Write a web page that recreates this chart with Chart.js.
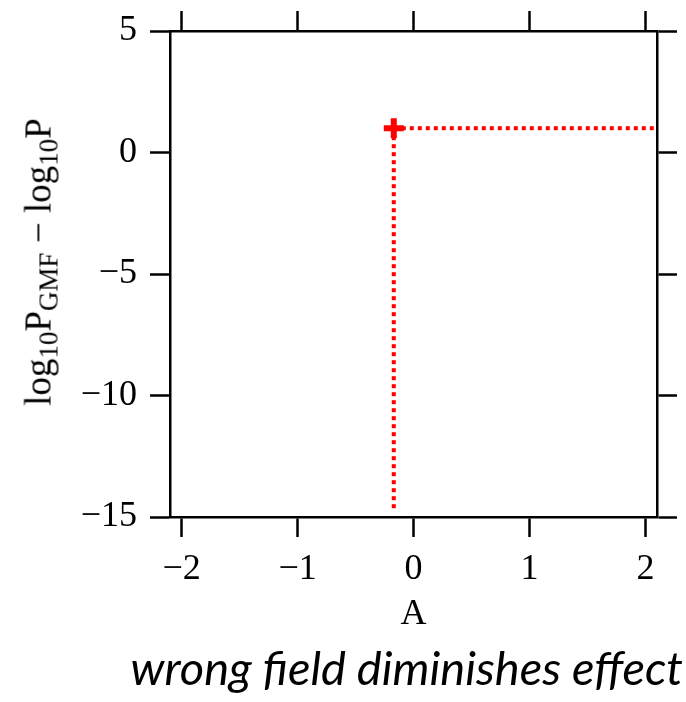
<!DOCTYPE html>
<html lang="en">
<head>
<meta charset="UTF-8">
<title>log10 P_GMF - log10 P vs A</title>
<script src="https://cdn.jsdelivr.net/npm/chart.js"></script>
<style>
  body { margin: 0; background: #fff; }
  #wrap { position: relative; width: 686px; height: 702px; }
  #chart { position: absolute; left: 0; top: 0; }
  #ytitle {
    position: absolute; left: 38px; top: 262px;
    transform: translate(-50%, -50%) rotate(-90deg);
    font-family: "Liberation Serif", serif; font-size: 37px; white-space: nowrap; color: #000;
  }
  #ytitle sub { font-size: 27px; vertical-align: -7px; line-height: 0; }
  #caption {
    position: absolute; right: 3px; top: 639px;
    font-family: Lato, sans-serif; font-style: italic; font-size: 47px; color: #000; white-space: nowrap;
  }
</style>
</head>
<body>
<div id="wrap">
  <canvas id="chart" width="686" height="640"></canvas>
  <div id="ytitle">log<sub>10</sub>P<sub>GMF</sub> &minus; log<sub>10</sub>P</div>
  <div id="caption">wrong field diminishes effect</div>
</div>
<script>
// values
const xTicks = [-2, -1, 0, 1, 2]
const yTicks = [5, 0, -5, -10, -15]
const xRange = [-2.1, 2.1]
const yRange = [-15, 5]

const pointA = [-0.17]
const pointY = [1]
// dotted guide lines from the point to the right edge and down to the bottom
const guideH = { x: [-0.17, 2.1], y: [1, 1] }
const guideV = { x: [-0.17, -0.17], y: [1, -14.7] }

const RED = '#ff0000'
const fmt = (v) => (v < 0 ? '\u2212' + Math.abs(v) : String(v))
const serif = { family: '"Liberation Serif", serif', size: 36 }

const pair = (g) => g.x.map((x, i) => ({ x, y: g.y[i] }))

function axisBase(pos, ticksArr, showLabels) {
  return {
    type: 'linear',
    position: pos,
    afterBuildTicks: (s) => { s.ticks = ticksArr.map((v) => ({ value: v })) },
    border: { display: true, color: '#000', width: 2.5 },
    grid: { drawOnChartArea: false, drawTicks: true, tickLength: 20, tickWidth: 2.5, tickColor: '#000' },
    ticks: { display: showLabels, color: '#000', font: serif, callback: (v) => fmt(v) },
  }
}

const ctx = document.getElementById('chart').getContext('2d')
new Chart(ctx, {
  type: 'scatter',
  data: {
    datasets: [
      {
        data: pointA.map((x, i) => ({ x, y: pointY[i] })),
        pointStyle: 'cross',
        pointRadius: 10,
        borderWidth: 6,
        borderColor: RED,
        backgroundColor: RED,
        order: 0,
      },
      {
        data: pair(guideH),
        showLine: true,
        pointRadius: 0,
        borderColor: RED,
        borderWidth: 4,
        borderDash: [4, 4],
        order: 1,
      },
      {
        data: pair(guideV),
        showLine: true,
        pointRadius: 0,
        borderColor: RED,
        borderWidth: 4,
        borderDash: [4, 4],
        order: 1,
      },
    ],
  },
  options: {
    responsive: false,
    animation: false,
    layout: { padding: 0 },
    plugins: { legend: { display: false }, tooltip: { enabled: false } },
    scales: {
      x: {
        ...axisBase('bottom', xTicks, true),
        min: xRange[0], max: xRange[1],
        ticks: { color: '#000', font: serif, padding: 11, maxRotation: 0, callback: (v) => fmt(v) },
        title: { display: true, text: 'A', color: '#000', font: serif, padding: { top: 0, bottom: 4 } },
        afterFit: (s) => { s.height = 640 - 517 },
      },
      x2: {
        ...axisBase('top', xTicks, false),
        min: xRange[0], max: xRange[1],
        afterFit: (s) => { s.height = 29 },
      },
      y: {
        ...axisBase('left', yTicks, true),
        min: yRange[0], max: yRange[1],
        ticks: { color: '#000', font: { ...serif, lineHeight: 1 }, padding: 13, callback: (v) => fmt(v) },
        afterFit: (s) => { s.width = 170 },
      },
      y2: {
        ...axisBase('right', yTicks, false),
        min: yRange[0], max: yRange[1],
        afterFit: (s) => { s.width = 686 - 657 },
      },
    },
  },
})
</script>
</body>
</html>
